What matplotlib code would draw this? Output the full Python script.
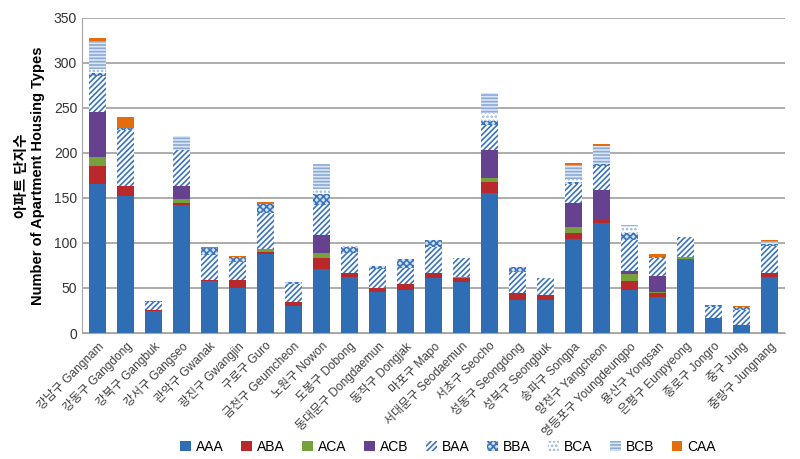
import matplotlib
matplotlib.use("Agg")
import matplotlib.pyplot as plt
import numpy as np

plt.rcParams['font.family'] = ['Liberation Sans', 'Noto Sans CJK KR', 'DejaVu Sans']
plt.rcParams['hatch.linewidth'] = 1.2

districts = ['강남구 Gangnam', '강동구 Gangdong', '강북구 Gangbuk', '강서구 Gangseo',
             '관악구 Gwanak', '광진구 Gwangjin', '구로구 Guro', '금천구 Geumcheon',
             '노원구 Nowon', '도봉구 Dobong', '동대문구 Dongdaemun', '동작구 Dongjak',
             '마포구 Mapo', '서대문구 Seodaemun', '서초구 Seocho', '성동구 Seongdong',
             '성북구 Seongbuk', '송파구 Songpa', '양천구 Yangcheon', '영등포구 Youngdeungpo',
             '용산구 Yongsan', '은평구 Eunpyeong', '종로구 Jongro', '중구 Jung', '중랑구 Jungnang']

# values per housing type, one entry per district
AAA = [166, 152, 24, 142, 58, 50, 88, 30, 71, 62, 46, 48, 61, 57, 156, 37, 37, 104, 122, 48, 40, 82, 17, 9, 62]
ABA = [20, 11, 1, 2, 1, 9, 2, 4, 12, 5, 4, 6, 4, 4, 12, 7, 5, 7, 3, 10, 4, 0, 0, 0, 5]
ACA = [10, 0, 0, 5, 0, 0, 3, 0, 6, 0, 0, 0, 0, 1, 4, 0, 0, 7, 0, 8, 2, 2, 0, 0, 0]
ACB = [50, 0, 0, 14, 0, 0, 0, 0, 20, 0, 0, 0, 2, 0, 31, 0, 0, 26, 34, 3, 17, 0, 0, 0, 0]
BAA = [39, 62, 9, 40, 28, 20, 40, 20, 33, 22, 21, 18, 29, 21, 28, 24, 19, 22, 27, 34, 20, 23, 12, 17, 30]
BBA = [4, 3, 2, 0, 7, 5, 10, 3, 12, 7, 3, 10, 7, 0, 4, 5, 0, 2, 2, 8, 1, 0, 2, 3, 2]
BCA = [4, 0, 0, 0, 0, 0, 0, 0, 6, 1, 0, 0, 0, 0, 9, 0, 0, 3, 0, 7, 0, 0, 0, 0, 0]
BCB = [31, 0, 0, 16, 0, 0, 0, 0, 28, 0, 0, 0, 0, 0, 23, 0, 0, 16, 20, 2, 0, 0, 0, 0, 3]
CAA = [4, 12, 0, 0, 2, 2, 2, 0, 0, 0, 0, 0, 0, 0, 0, 0, 0, 2, 2, 0, 4, 0, 0, 1, 1]

series = [
    ('AAA', AAA, dict(color='#2F6DB5')),
    ('ABA', ABA, dict(color='#B9282A')),
    ('ACA', ACA, dict(color='#77A23B')),
    ('ACB', ACB, dict(color='#65418F')),
    ('BAA', BAA, dict(facecolor='white', edgecolor='#3A74BA', hatch='//////')),
    ('BBA', BBA, dict(facecolor='#D3E0F1', edgecolor='#3A74BA', hatch='xxxxx')),
    ('BCA', BCA, dict(facecolor='white', edgecolor='#9AB6DD', hatch='....')),
    ('BCB', BCB, dict(facecolor='#DCE6F4', edgecolor='#8AAAD8', hatch='-----')),
    ('CAA', CAA, dict(color='#E46C0A')),
]

fig = plt.figure(figsize=(8, 4.59), dpi=100)
ax = fig.add_axes([0.1025, 0.2745, 0.8785, 0.6865])

x = np.arange(len(districts))
bottom = np.zeros(len(districts))
for name, vals, style in series:
    vals = np.array(vals, dtype=float)
    ax.bar(x, vals, 0.58, bottom=bottom, label=name, linewidth=0, **style)
    bottom += vals

ax.set_ylim(0, 350)
ax.set_xlim(-0.55, len(districts) - 0.45)
ax.set_yticks(range(0, 351, 50))
ax.yaxis.grid(True, color='#A6A6A6', linewidth=1.3)
ax.set_axisbelow(True)
for s in ['top', 'right']:
    ax.spines[s].set_visible(False)
ax.spines['left'].set_color('#A6A6A6')
ax.spines['bottom'].set_color('#A6A6A6')
ax.tick_params(length=0, labelsize=10, colors='#333333')
ax.set_xticks(x)
ax.set_xticklabels(districts, rotation=45, ha='right', rotation_mode='anchor',
                   fontsize=8.6, color='#404040')
ax.tick_params(axis='x', pad=5)
ax.set_ylabel('아파트 단지수\nNumber of Apartment Housing Types', fontsize=10.5,
              fontweight='bold', linespacing=1.2, labelpad=6)

fig.legend(loc='center', bbox_to_anchor=(0.56, 0.027), ncol=9, frameon=False,
           fontsize=10, handlelength=0.75, handleheight=0.75, handletextpad=0.35,
           columnspacing=1.3)

fig.savefig('out.png', dpi=100)
